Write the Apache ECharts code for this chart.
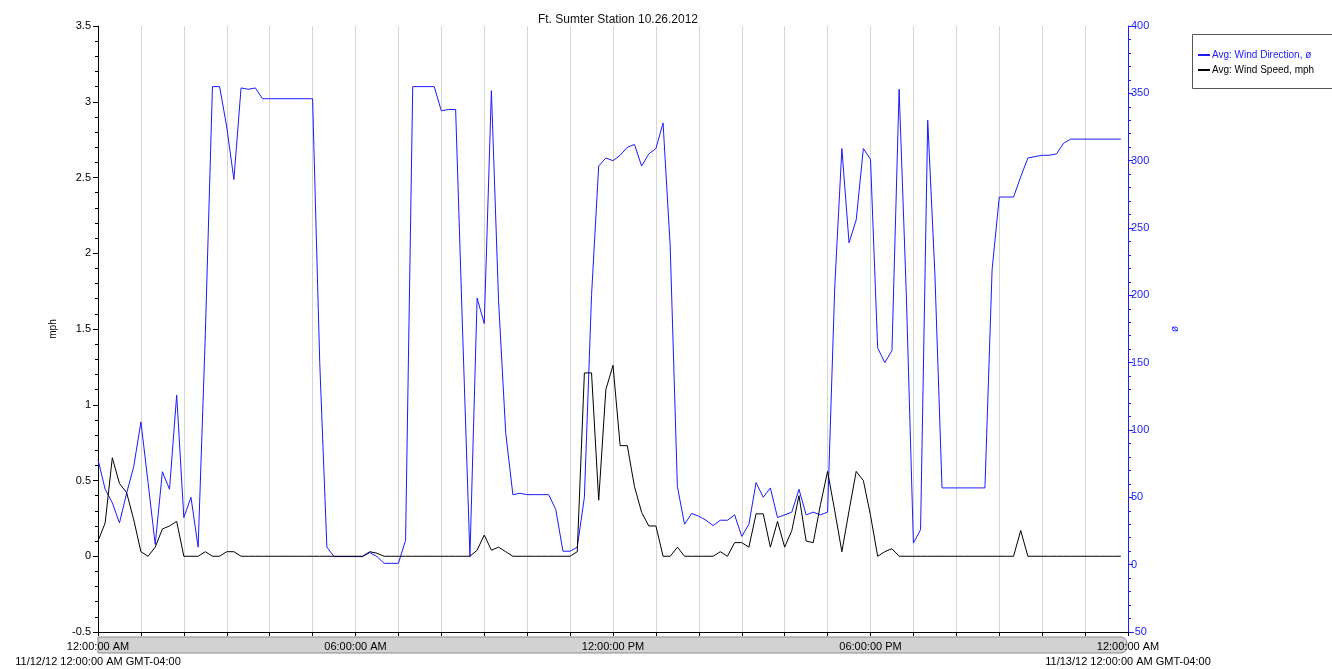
<!DOCTYPE html>
<html>
<head>
<meta charset="utf-8">
<script src="https://cdn.jsdelivr.net/npm/echarts@6/dist/echarts.min.js"></script>
<style>
  html, body { margin: 0; padding: 0; background: #fff; }
  #chart { width: 1332px; height: 669px; }
</style>
</head>
<body>
<div id="chart"></div>
<script>
// 10 minute samples, 11/12/12 00:00 .. 23:50
var stepMinutes = 10;

var windDirection = [
    78, 56, 46, 31, 53, 73, 106, 61, 15, 69, 56, 126,
    35, 50, 13, 170, 355, 355, 325, 286, 354, 353, 354, 346,
    346, 346, 346, 346, 346, 346, 346, 150, 13, 6, 6, 6,
    6, 6, 9, 6, 1, 1, 1, 18, 355, 355, 355, 355,
    337, 338, 338, 169, 6, 198, 179, 352, 196, 98, 52, 53,
    52, 52, 52, 52, 41, 10, 10, 13, 50, 200, 296, 302,
    300, 304, 310, 312, 296, 305, 309, 328, 236, 58, 30, 38,
    36, 33, 29, 33, 33, 37, 21, 30, 61, 50, 57, 35,
    37, 39, 56, 37, 39, 37, 39, 206, 309, 239, 256, 309,
    301, 161, 150, 159, 353, 202, 16, 26, 330, 216, 57, 57,
    57, 57, 57, 57, 57, 219, 273, 273, 273, 288, 302, 303,
    304, 304, 305, 313, 316, 316, 316, 316, 316, 316, 316, 316
];

var windSpeed = [
    0.1, 0.22, 0.65, 0.48, 0.42, 0.24, 0.03, 0, 0.06, 0.18, 0.2, 0.23,
    0, 0, 0, 0.03, 0, 0, 0.03, 0.03, 0, 0, 0, 0,
    0, 0, 0, 0, 0, 0, 0, 0, 0, 0, 0, 0,
    0, 0, 0.03, 0.02, 0, 0, 0, 0, 0, 0, 0, 0,
    0, 0, 0, 0, 0, 0.04, 0.14, 0.04, 0.06, 0.03, 0, 0,
    0, 0, 0, 0, 0, 0, 0, 0.03, 1.21, 1.21, 0.37, 1.1,
    1.26, 0.73, 0.73, 0.46, 0.29, 0.2, 0.2, 0, 0, 0.06, 0, 0,
    0, 0, 0, 0.03, 0, 0.09, 0.09, 0.06, 0.28, 0.28, 0.06, 0.23,
    0.06, 0.17, 0.4, 0.1, 0.09, 0.34, 0.56, 0.3, 0.03, 0.3, 0.56, 0.5,
    0.27, 0, 0.03, 0.05, 0, 0, 0, 0, 0, 0, 0, 0,
    0, 0, 0, 0, 0, 0, 0, 0, 0, 0.17, 0, 0,
    0, 0, 0, 0, 0, 0, 0, 0, 0, 0, 0, 0
];

var xTickLabels = ['12:00:00 AM', '06:00:00 AM', '12:00:00 PM', '06:00:00 PM', '12:00:00 AM'];
var startDateLabel = '11/12/12 12:00:00 AM GMT-04:00';
var endDateLabel = '11/13/12 12:00:00 AM GMT-04:00';

var FONT = '"Liberation Sans", Arial, sans-serif';
var BLUE = '#1a1aff';

var chartDom = document.getElementById('chart');
var chartInstance = echarts.init(chartDom);

function toPairs(values) {
    var out = [];
    for (var i = 0; i < values.length; i++) {
        out.push([i * stepMinutes, values[i]]);
    }
    return out;
}

function xLabel(v) {
    if (v % 360 !== 0) return '';
    var idx = v / 360;
    var txt = xTickLabels[idx];
    if (idx === 0) txt += '\n' + startDateLabel;
    if (idx === xTickLabels.length - 1) txt += '\n' + endDateLabel;
    return txt;
}

var chartOption = {
    animation: false,
    backgroundColor: '#fff',
    textStyle: { fontFamily: FONT },
    title: {
        text: 'Ft. Sumter Station 10.26.2012',
        left: 613,
        top: 9,
        textAlign: 'center',
        textStyle: { fontFamily: FONT, fontSize: 12, fontWeight: 'normal', color: '#111' }
    },
    graphic: [
        {
            type: 'rect', z: 0,
            shape: { x: 98, y: 637, width: 1029, height: 16, r: [0, 6, 6, 0] },
            style: { fill: '#d2d2d2', stroke: '#8a8a8a', lineWidth: 1 }
        },
        {
            type: 'rect', z: 0,
            shape: { x: 1192.5, y: 34.5, width: 150, height: 54 },
            style: { fill: '#fff', stroke: '#555', lineWidth: 1 }
        }
    ],
    legend: {
        orient: 'vertical',
        left: 1193,
        top: 45,
        itemWidth: 12,
        itemHeight: 2,
        itemGap: 5,
        icon: 'rect',
        textStyle: { fontFamily: FONT, fontSize: 10, color: '#000', padding: [0, 0, 0, -3] },
        data: [
            { name: 'Avg: Wind Direction, ø', textStyle: { color: BLUE } },
            { name: 'Avg: Wind Speed, mph' }
        ]
    },
    grid: { left: 98, right: 204, top: 26, bottom: 37, containLabel: false },
    xAxis: {
        type: 'value',
        min: 0,
        max: 1440,
        interval: 60,
        axisLine: { show: true, onZero: false, lineStyle: { color: '#000', width: 1 } },
        axisTick: { show: true, length: 4, lineStyle: { color: '#000' } },
        axisLabel: {
            formatter: xLabel,
            color: '#000',
            fontSize: 11,
            fontFamily: FONT,
            margin: 7,
            lineHeight: 15,
            showMinLabel: true,
            showMaxLabel: true
        },
        splitLine: { show: true, lineStyle: { color: '#d6d6d6', width: 1 } }
    },
    yAxis: [
        {
            type: 'value',
            min: -0.5,
            max: 3.5,
            interval: 0.5,
            name: 'mph',
            nameLocation: 'middle',
            nameGap: 40,
            nameRotate: 90,
            nameTextStyle: { fontFamily: FONT, fontSize: 10, color: '#000' },
            axisLine: { show: true, onZero: false, lineStyle: { color: '#000' } },
            axisTick: { show: true, length: 5, lineStyle: { color: '#000' } },
            minorTick: { show: true, splitNumber: 5, length: 3, lineStyle: { color: '#000' } },
            axisLabel: { color: '#000', fontSize: 11, fontFamily: FONT, margin: 7 },
            splitLine: { show: false }
        },
        {
            type: 'value',
            min: -50,
            max: 400,
            interval: 50,
            position: 'right',
            name: 'ø',
            nameLocation: 'middle',
            nameGap: 42,
            nameRotate: 90,
            nameTextStyle: { fontFamily: FONT, fontSize: 10, color: BLUE },
            axisLine: { show: true, onZero: false, lineStyle: { color: BLUE } },
            axisTick: { show: true, length: 5, lineStyle: { color: BLUE } },
            minorTick: { show: true, splitNumber: 5, length: 3, lineStyle: { color: BLUE } },
            axisLabel: { color: BLUE, fontSize: 11, fontFamily: FONT, margin: 3 },
            splitLine: { show: false }
        }
    ],
    series: [
        {
            name: 'Avg: Wind Direction, ø',
            type: 'line',
            yAxisIndex: 1,
            symbol: 'none',
            color: BLUE,
            lineStyle: { color: BLUE, width: 1 },
            data: toPairs(windDirection),
            z: 3
        },
        {
            name: 'Avg: Wind Speed, mph',
            type: 'line',
            yAxisIndex: 0,
            symbol: 'none',
            color: '#000',
            lineStyle: { color: '#000', width: 1 },
            data: toPairs(windSpeed),
            z: 4
        }
    ]
};

chartInstance.setOption(chartOption);
</script>
</body>
</html>
